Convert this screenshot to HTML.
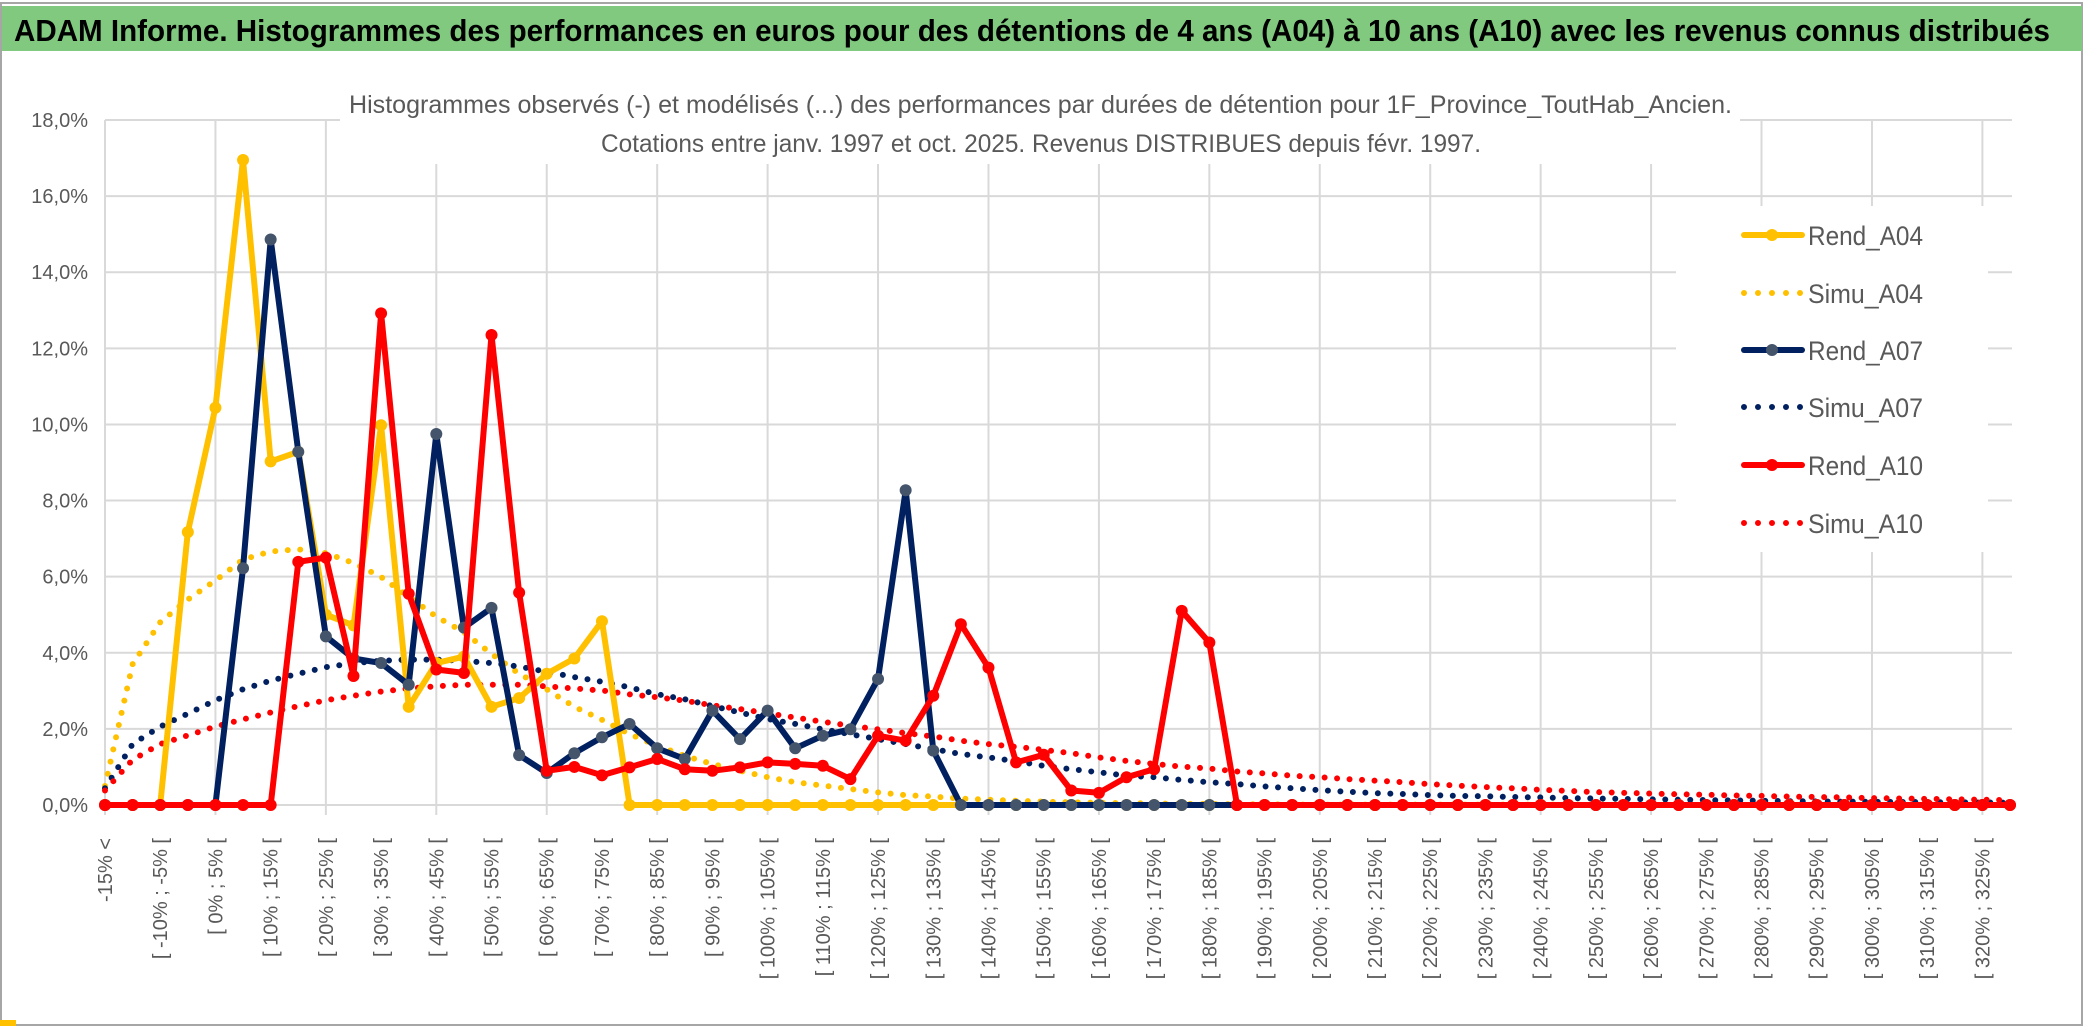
<!DOCTYPE html>
<html><head><meta charset="utf-8">
<style>
html,body{margin:0;padding:0;background:#fff;}
svg{display:block;font-family:"Liberation Sans",sans-serif;}
</style></head>
<body>
<svg id="chart" width="2086" height="1033" viewBox="0 0 2086 1033" xmlns="http://www.w3.org/2000/svg">
  <rect x="0" y="0" width="2086" height="1033" fill="#fff"/>
  <rect x="1" y="3" width="2081" height="1022" fill="none" stroke="#a6a6a6" stroke-width="2"/>
  <rect x="2" y="6" width="2080" height="45" fill="#80c97f"/>
  <text x="14" y="41" font-size="31" font-weight="bold" fill="#000" textLength="2036" lengthAdjust="spacingAndGlyphs">ADAM Informe. Histogrammes des performances en euros pour des détentions de 4 ans (A04) à 10 ans (A10) avec les revenus connus distribués</text>
  <g id="grid"></g>
  <rect x="340" y="84" width="1400" height="80" fill="#fff"/>
  <text x="349" y="113" font-size="25" fill="#595959" textLength="1383" lengthAdjust="spacingAndGlyphs">Histogrammes observés (-) et modélisés (...) des performances par durées de détention pour 1F_Province_ToutHab_Ancien.</text>
  <text x="601" y="152" font-size="25" fill="#595959" textLength="880" lengthAdjust="spacingAndGlyphs">Cotations entre janv. 1997 et oct. 2025. Revenus DISTRIBUES depuis févr. 1997.</text>
  <g id="yaxis"></g>
  <g id="xaxis"></g>
  <g id="series"></g>
  <g id="legend"></g>
  <rect x="0" y="1020" width="16" height="6" fill="#ffc000"/>
</svg>
<script>
const yTicks = [0,2,4,6,8,10,12,14,16,18];
const yTickLabels = ["0,0%","2,0%","4,0%","6,0%","8,0%","10,0%","12,0%","14,0%","16,0%","18,0%"];
const binStarts = [];
for (let i = 0; i < 70; i++) binStarts.push(i === 0 ? null : (i - 4) * 5);

const rendA04 = [0,0,0,7.17,10.44,16.95,9.03,9.28,5.0,4.72,9.98,2.58,3.73,3.9,2.58,2.81,3.45,3.85,4.83,0,0,0,0,0,0,0,0,0,0,0,0,0,0,0,0,0,0,0,0,0,0,0,0,0,0,0,0,0,0,0,0,0,0,0,0,0,0,0,0,0,0,0,0,0,0,0,0,0,0,0];
const simuA04 = [0.5,3.7,4.8,5.4,5.9,6.45,6.66,6.72,6.62,6.36,5.99,5.47,4.95,4.54,3.97,3.45,3.04,2.58,2.24,1.86,1.56,1.29,1.08,0.9,0.73,0.6,0.51,0.42,0.33,0.26,0.22,0.17,0.14,0.11,0.09,0.07,0.06,0.05,0.04,0.03,0.03,0.02,0.02,0.01,0.01,0.01,0.01,0.01,0.01,0.01,0.01,0.01,0.01,0.01,0.01,0.01,0.01,0.01,0.01,0.01,0.01,0.01,0.01,0.01,0.01,0.01,0.01,0.01,0.01,0.01];
const rendA07 = [0,0,0,0,0,6.22,14.86,9.28,4.43,3.85,3.73,3.16,9.75,4.66,5.18,1.31,0.84,1.36,1.78,2.13,1.49,1.21,2.48,1.73,2.48,1.49,1.82,1.99,3.31,8.27,1.43,0,0,0,0,0,0,0,0,0,0,0,0,0,0,0,0,0,0,0,0,0,0,0,0,0,0,0,0,0,0,0,0,0,0,0,0,0,0,0];
const simuA07 = [0.44,1.6,2.06,2.4,2.75,3.04,3.27,3.45,3.62,3.73,3.79,3.82,3.82,3.79,3.73,3.64,3.5,3.36,3.24,3.09,2.91,2.78,2.6,2.43,2.26,2.13,1.99,1.86,1.73,1.6,1.47,1.34,1.25,1.15,1.03,0.94,0.86,0.77,0.73,0.66,0.6,0.55,0.49,0.44,0.39,0.35,0.31,0.29,0.26,0.24,0.23,0.21,0.2,0.18,0.17,0.16,0.15,0.14,0.13,0.12,0.11,0.1,0.095,0.09,0.085,0.08,0.075,0.07,0.065,0.06];
const rendA10 = [0,0,0,0,0,0,0,6.39,6.5,3.39,12.92,5.55,3.56,3.47,12.35,5.58,0.9,1.0,0.78,0.99,1.21,0.94,0.9,0.99,1.12,1.08,1.03,0.68,1.82,1.69,2.87,4.75,3.61,1.12,1.32,0.38,0.32,0.73,0.94,5.1,4.27,0,0,0,0,0,0,0,0,0,0,0,0,0,0,0,0,0,0,0,0,0,0,0,0,0,0,0,0,0];
const simuA10 = [0.38,1.19,1.6,1.83,2.06,2.25,2.43,2.6,2.75,2.87,2.98,3.06,3.12,3.16,3.16,3.16,3.12,3.06,3.01,2.91,2.83,2.74,2.62,2.52,2.41,2.3,2.19,2.08,1.99,1.89,1.8,1.69,1.6,1.53,1.45,1.36,1.25,1.16,1.08,1.01,0.96,0.88,0.83,0.77,0.73,0.68,0.64,0.6,0.55,0.51,0.47,0.44,0.4,0.37,0.34,0.32,0.3,0.28,0.27,0.25,0.24,0.22,0.21,0.2,0.18,0.17,0.16,0.15,0.14,0.13];

const seriesNames = ["Rend_A04","Simu_A04","Rend_A07","Simu_A07","Rend_A10","Simu_A10"];

const NS = "http://www.w3.org/2000/svg";
const X0 = 105, X1 = 2010, Y0 = 805, YTOP = 120, YMAX = 18;
const N = binStarts.length;
function xs(i){ return X0 + i * (X1 - X0) / (N - 1); }
function ys(v){ return Y0 - v * (Y0 - YTOP) / YMAX; }
function mk(tag, attrs, parent){ const e = document.createElementNS(NS, tag); for (const k in attrs) e.setAttribute(k, attrs[k]); parent.appendChild(e); return e; }

const grid = document.getElementById('grid');
yTicks.forEach(function(t){
  const l = mk('line', {x1:X0, x2:2012, y1:ys(t), y2:ys(t), stroke:'#d9d9d9', 'stroke-width':2}, grid);
  
  
});
for (let i = 0; i < N; i += 4) {
  const l = mk('line', {x1:xs(i), x2:xs(i), y1:YTOP, y2:Y0 + 10, stroke:'#d9d9d9', 'stroke-width':2}, grid);
  
  
}

const yax = document.getElementById('yaxis');
yTicks.forEach(function(t, k){
  const tx = mk('text', {x:88, y:ys(t) + 7, 'text-anchor':'end', 'font-size':20, fill:'#595959'}, yax);
  tx.textContent = yTickLabels[k];
  
  
});

const xax = document.getElementById('xaxis');
for (let i = 0; i < N; i += 2) {
  const s = binStarts[i];
  const lab = (s === null) ? "-15% <" : "[ " + s + "% ; " + (s + 5) + "% [";
  const x = xs(i) + 7, y = 838;
  const tx = mk('text', {x:x, y:y, 'text-anchor':'end', 'font-size':20, fill:'#595959', transform:'rotate(-90 ' + x + ' ' + y + ')'}, xax);
  tx.textContent = lab;
  
  
}

const ser = document.getElementById('series');
function dotted(data, color, name){
  const pts = data.map(function(v, i){ return xs(i).toFixed(1) + ',' + ys(v).toFixed(1); }).join(' ');
  const p = mk('polyline', {points:pts, fill:'none', stroke:color, 'stroke-width':6, 'stroke-dasharray':'0 12.5', 'stroke-linecap':'round'}, ser);
  
  
}
function solid(data, color, markerColor, name){
  const pts = data.map(function(v, i){ return xs(i).toFixed(1) + ',' + ys(v).toFixed(1); }).join(' ');
  const p = mk('polyline', {points:pts, fill:'none', stroke:color, 'stroke-width':6, 'stroke-linejoin':'round'}, ser);
  
  
  data.forEach(function(v, i){
    const c = mk('circle', {cx:xs(i), cy:ys(v), r:6, fill:markerColor}, ser);
    
    
  });
}
dotted(simuA04, '#ffc000', 'simu-a04');
dotted(simuA07, '#002060', 'simu-a07');
dotted(simuA10, '#ff0000', 'simu-a10');
solid(rendA04, '#ffc000', '#ffc000', 'rend-a04');
solid(rendA07, '#002060', '#44546a', 'rend-a07');
solid(rendA10, '#ff0000', '#ff0000', 'rend-a10');

const leg = document.getElementById('legend');
const lb = mk('rect', {x:1676, y:206, width:312, height:346, fill:'#fff'}, leg);


const legColors = ['#ffc000','#ffc000','#002060','#002060','#ff0000','#ff0000'];
const legMarkers = ['#ffc000',null,'#44546a',null,'#ff0000',null];
const legY = [235,293,350,407,465,523];
seriesNames.forEach(function(n, k){
  const y = legY[k];
  if (legMarkers[k]) {
    const l = mk('line', {x1:1744, x2:1802, y1:y, y2:y, stroke:legColors[k], 'stroke-width':6, 'stroke-linecap':'round'}, leg);
    
    
    const c = mk('circle', {cx:1772, cy:y, r:6, fill:legMarkers[k]}, leg);
    
    
  } else {
    const l = mk('line', {x1:1744, x2:1802, y1:y, y2:y, stroke:legColors[k], 'stroke-width':6, 'stroke-dasharray':'0 14', 'stroke-linecap':'round'}, leg);
    
    
  }
  const t = mk('text', {x:1808, y:y + 10, 'font-size':27, fill:'#595959', textLength:115, lengthAdjust:'spacingAndGlyphs'}, leg);
  t.textContent = n;
  
  
});
</script>
</body></html>
